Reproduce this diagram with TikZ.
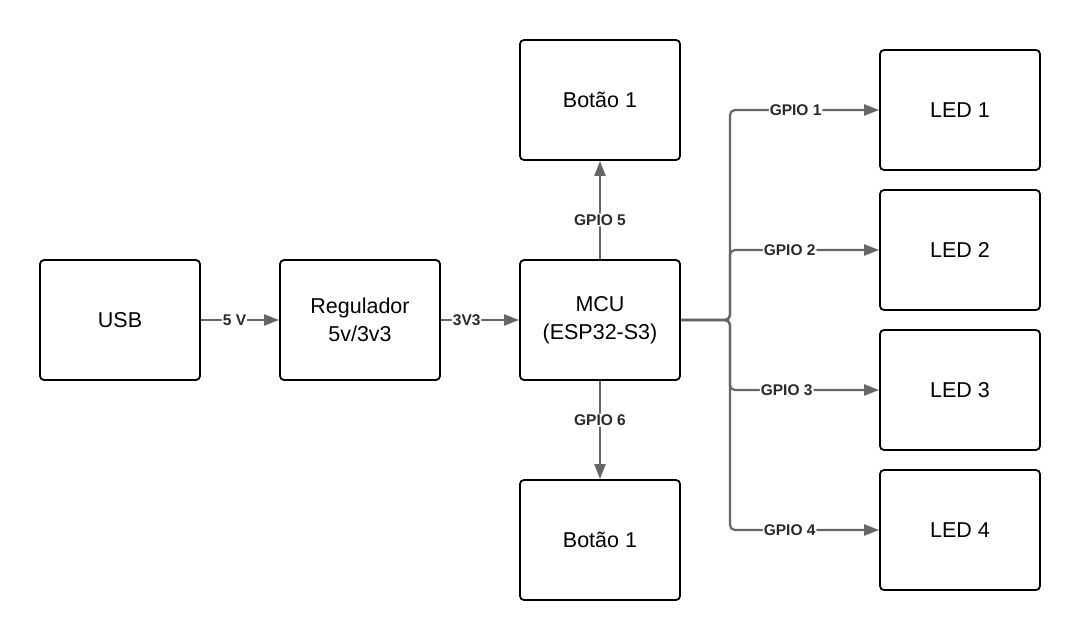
\documentclass[tikz,border=0pt]{standalone}
\usepackage{fontspec}
\setmainfont{Liberation Sans}
\usetikzlibrary{arrows.meta}
\definecolor{edgegray}{HTML}{666666}
\definecolor{lblgray}{HTML}{2A2A2A}
\tikzset{
  blk/.style={draw=black, line width=1.8pt, rounded corners=4pt, minimum width=160pt, minimum height=120pt, inner sep=0pt, font=\fontsize{21.5}{28}\selectfont, align=center, text=black},
  conn/.style={draw=edgegray, line width=2.2pt, -{Triangle[length=15pt,width=11pt]}, rounded corners=5pt},
  lab/.style={fill=white, inner sep=1pt, font=\bfseries\fontsize{15.5}{17}\selectfont, text=lblgray},
}
\begin{document}
\begin{tikzpicture}[x=1pt,y=-1pt]
\useasboundingbox (0,0) rectangle (1080,640);
\node[blk] (usb) at (120,320) {USB};
\node[blk] (reg) at (360,320) {Regulador\\5v/3v3};
\node[blk] (mcu) at (600,320) {MCU\\(ESP32-S3)};
\node[blk] (btn1) at (600,100) {Botão 1};
\node[blk] (btn2) at (600,540) {Botão 1};
\node[blk] (led1) at (960,110) {LED 1};
\node[blk] (led2) at (960,250) {LED 2};
\node[blk] (led3) at (960,390) {LED 3};
\node[blk] (led4) at (960,530) {LED 4};
\coordinate (br) at (730,320);
\draw[conn] (usb.east) -- node[lab,pos=0.43] {5 V} (reg.west);
\draw[conn] (reg.east) -- node[lab,pos=0.33] {3V3} (mcu.west);
\draw[conn] (mcu.north) -- node[lab,pos=0.4] {GPIO 5} (btn1.south);
\draw[conn] (mcu.south) -- node[lab,pos=0.4] {GPIO 6} (btn2.north);
\draw[conn] (mcu.east) -- (br) |- node[lab,pos=0.72] {GPIO 1} (led1.west);
\draw[conn] (mcu.east) -- (br) |- node[lab,pos=0.70] {GPIO 2} (led2.west);
\draw[conn] (mcu.east) -- (br) |- node[lab,pos=0.69] {GPIO 3} (led3.west);
\draw[conn] (mcu.east) -- (br) |- node[lab,pos=0.70] {GPIO 4} (led4.west);
\end{tikzpicture}
\end{document}
